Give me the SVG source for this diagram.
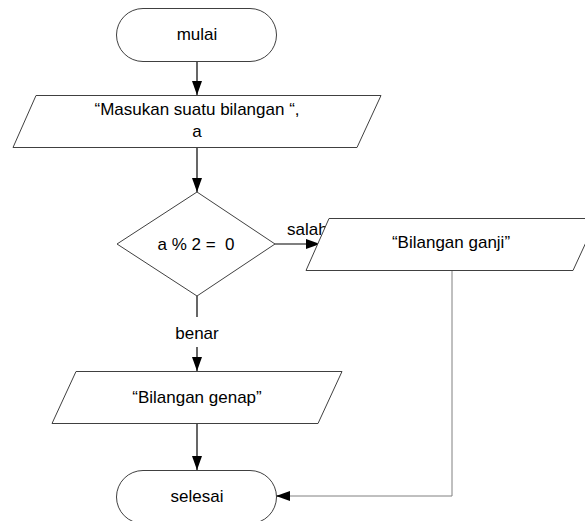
<svg xmlns="http://www.w3.org/2000/svg" width="585" height="521" viewBox="0 0 585 521">
  <style>
    .shape { fill: #ffffff; stroke: #404040; stroke-width: 1; }
    .conn { fill: none; stroke: #000000; stroke-width: 1.2; }
    .conn-gray { fill: none; stroke: #808080; stroke-width: 1; }
    text { font-family: "Liberation Sans", Arial, sans-serif; font-size: 17px; fill: #000000; }
    .c { text-anchor: middle; }
  </style>
  <defs>
    <marker id="arrow" markerWidth="14" markerHeight="10" refX="14" refY="5" orient="auto" markerUnits="userSpaceOnUse">
      <path d="M0,0 L14,5 L0,10 Z" fill="#000000"/>
    </marker>
  </defs>

  <rect width="585" height="521" fill="#ffffff"/>

  <!-- connectors -->
  <g id="connectors">
    <line class="conn" x1="197" y1="61" x2="197" y2="95" marker-end="url(#arrow)"/>
    <line class="conn" x1="197" y1="147" x2="197" y2="192" marker-end="url(#arrow)"/>
    <line class="conn" x1="275" y1="244" x2="320" y2="244" marker-end="url(#arrow)"/>
    <line class="conn" x1="197" y1="296" x2="197" y2="317"/>
    <line class="conn" x1="197" y1="347" x2="197" y2="371" marker-end="url(#arrow)"/>
    <line class="conn" x1="197" y1="423" x2="197" y2="470" marker-end="url(#arrow)"/>
    <polyline class="conn-gray" points="452,270 452,496 290,496"/>
    <line class="conn" x1="290" y1="496" x2="276" y2="496" marker-end="url(#arrow)"/>
    <text x="287" y="235">salah</text>
    <text class="c" x="197" y="339">benar</text>
  </g>

  <g id="mulai">
    <rect class="shape" x="116.5" y="8.5" width="160" height="53" rx="26.5" ry="26.5"/>
    <text class="c" x="197" y="40">mulai</text>
  </g>

  <g id="input">
    <polygon class="shape" points="36,95.5 381,95.5 357,147.5 13,147.5"/>
    <text class="c" x="197" y="115">“Masukan suatu bilangan “,</text>
    <text class="c" x="197" y="137">a</text>
  </g>

  <g id="kondisi">
    <polygon class="shape" points="197,192 275,244 197,296 117,244"/>
    <text class="c" x="196" y="250" xml:space="preserve">a % 2 =  0</text>
  </g>

  <g id="ganji">
    <polygon class="shape" points="329,218.5 597,218.5 573,270.5 306,270.5"/>
    <text class="c" x="451" y="248">“Bilangan ganji”</text>
  </g>

  <g id="genap">
    <polygon class="shape" points="76,371.5 342,371.5 318,423.5 52,423.5"/>
    <text class="c" x="197" y="403">“Bilangan genap”</text>
  </g>

  <g id="selesai">
    <rect class="shape" x="116.5" y="470.5" width="160" height="53" rx="26.5" ry="26.5"/>
    <text class="c" x="197" y="502">selesai</text>
  </g>
</svg>
